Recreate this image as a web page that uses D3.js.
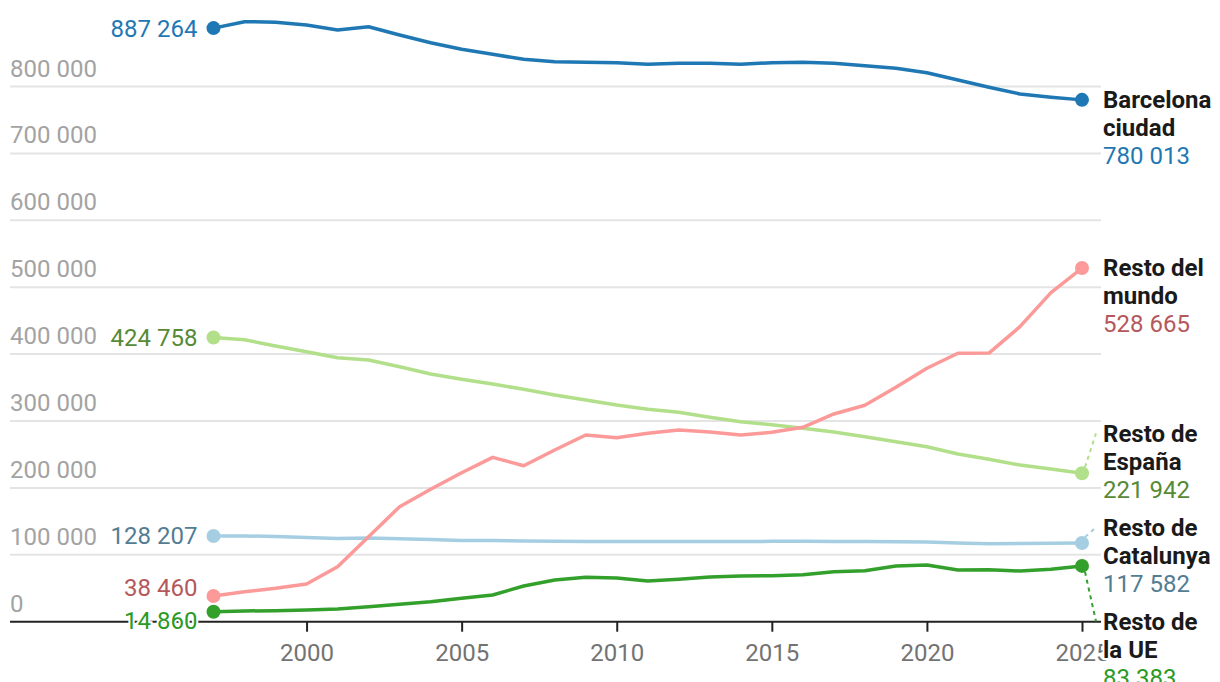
<!DOCTYPE html>
<html>
<head>
<meta charset="utf-8">
<script src="https://cdn.jsdelivr.net/npm/d3@7"></script>
<style>
  body { margin: 0; background: #fff; }
  text { font-family: Roboto, "Noto Sans", sans-serif; }
</style>
</head>
<body>
<div id="chart"></div>
<script>
// Data
var years = [1997, 1998, 1999, 2000, 2001, 2002, 2003, 2004, 2005, 2006, 2007, 2008, 2009, 2010,
  2011, 2012, 2013, 2014, 2015, 2016, 2017, 2018, 2019, 2020, 2021, 2022, 2023, 2024, 2025];

var barcelona = [887264, 896900, 896200, 891900, 884400, 889400, 877000, 865500, 855600, 848100,
  840600, 837100, 836200, 835600, 833200, 834700, 834700, 833200, 835600, 836200, 834700, 831100,
  827200, 820600, 809700, 798800, 788800, 783900, 780013];

var restoMundo = [38460, 44800, 49900, 56400, 82200, 127100, 171900, 197900, 222700, 245700,
  233200, 256700, 279100, 275000, 281600, 286500, 283600, 279100, 283100, 290600, 310500, 323500,
  350400, 378800, 401200, 401500, 441000, 491800, 528665];

var restoEspana = [424758, 421400, 412100, 403600, 394600, 391200, 381200, 370300, 362300, 355300,
  347400, 338900, 331400, 323900, 317500, 313000, 305500, 299000, 294500, 289100, 283600, 276500,
  269100, 261600, 250700, 242700, 234200, 228200, 221942];

var restoCatalunya = [128207, 128100, 127500, 126000, 124200, 125200, 124000, 122700, 121500, 121200,
  120600, 120300, 120000, 119900, 119800, 119900, 119900, 119900, 120100, 120200, 120000, 119700,
  119500, 119300, 117600, 116700, 117000, 117300, 117582];

var restoUE = [14860, 16000, 16500, 17500, 19000, 22400, 26000, 29900, 35000, 39900,
  53400, 62300, 66300, 65300, 60800, 63300, 66800, 68300, 68800, 70300, 74800, 76300,
  83300, 84800, 77300, 77700, 75800, 78500, 83383];

var seriesNames = [["Resto de", "Catalunya"], ["Resto de", "España"], ["Resto de", "la UE"],
  ["Resto del", "mundo"], ["Barcelona", "ciudad"]];
var seriesValues = [restoCatalunya, restoEspana, restoUE, restoMundo, barcelona];
var lineColors = ["#a6cee3", "#b2df8a", "#33a02c", "#fb9a99", "#1f78b4"];
var textColors = ["#527d93", "#568a35", "#2b9a23", "#b5585b", "#1f78b4"];

var yTicks = [0, 100000, 200000, 300000, 400000, 500000, 600000, 700000, 800000];
var xTicks = [2000, 2005, 2010, 2015, 2020, 2025];

// Set up the chart
var svgWidth = 1220;
var svgHeight = 682;
var gridLeft = 10;
var gridRight = 1101;
var fontSize = "24px";

var svg = d3.select("#chart")
  .append("svg")
  .attr("width", svgWidth)
  .attr("height", svgHeight);

var fmt = d3.formatLocale({decimal: ",", thousands: " ", grouping: [3], currency: ["", ""]}).format(",d");

var xScale = d3.scaleLinear().domain([1997, 2025]).range([213.5, 1082]);
var yScale = d3.scaleLinear().domain([0, 800000]).range([621.7, 86.5]);

// Gridlines + y labels
svg.append("g").selectAll("line")
  .data(yTicks.filter(d => d > 0))
  .enter().append("line")
  .attr("x1", gridLeft).attr("x2", gridRight)
  .attr("y1", d => yScale(d)).attr("y2", d => yScale(d))
  .attr("stroke", "#e4e4e4").attr("stroke-width", 2);

svg.append("g").selectAll("text")
  .data(yTicks)
  .enter().append("text")
  .attr("x", gridLeft)
  .attr("y", d => yScale(d) - 10)
  .attr("fill", "#a3a3a3")
  .attr("font-size", fontSize)
  .text(d => fmt(d));

// x axis
var xAxis = d3.axisBottom(xScale).tickValues(xTicks).tickFormat(d3.format("d")).tickSize(10).tickSizeOuter(0);
var axisG = svg.append("g")
  .attr("transform", `translate(0, ${yScale(0)})`)
  .call(xAxis);
axisG.select(".domain").remove();
axisG.selectAll(".tick line").attr("stroke", "#222").attr("stroke-width", 2);
axisG.selectAll(".tick text")
  .attr("fill", "#737373")
  .attr("font-size", fontSize)
  .attr("font-family", "Roboto")
  .attr("y", 22);

svg.append("line")
  .attr("x1", gridLeft).attr("x2", gridRight)
  .attr("y1", yScale(0)).attr("y2", yScale(0))
  .attr("stroke", "#222").attr("stroke-width", 2);

var line = d3.line()
  .x((d, i) => xScale(years[i]))
  .y(d => yScale(d));

var series = seriesValues.map((vals, i) => ({
  name: seriesNames[i], values: vals, color: lineColors[i], tcolor: textColors[i]
}));

// simple label de-overlap: merge clusters and centre them on their mean
function spread(items, gap) {
  var sorted = items.slice().sort((a, b) => a.target - b.target);
  var clusters = sorted.map(d => ({items: [d], mean: d.target}));
  var moved = true;
  while (moved) {
    moved = false;
    for (var i = 0; i < clusters.length - 1; i++) {
      var a = clusters[i], b = clusters[i + 1];
      var aEnd = a.mean + (a.items.length - 1) * gap / 2;
      var bStart = b.mean - (b.items.length - 1) * gap / 2;
      if (bStart - aEnd < gap) {
        var items2 = a.items.concat(b.items);
        clusters.splice(i, 2, {items: items2, mean: d3.mean(items2, d => d.target)});
        moved = true;
        break;
      }
    }
  }
  clusters.forEach(c => {
    var start = c.mean - (c.items.length - 1) * gap / 2;
    c.items.forEach((d, k) => { d.y = start + k * gap; });
  });
}

var leftLabels = series.map(s => ({s: s, target: yScale(s.values[0])}));
spread(leftLabels, 33);
var rightLabels = series.map(s => ({s: s, target: yScale(s.values[s.values.length - 1])}));
spread(rightLabels, 94);

// connectors for moved right labels
var lastX = xScale(years[years.length - 1]);
svg.append("g").selectAll("line")
  .data(rightLabels.filter(d => Math.abs(d.y - d.target) > 3))
  .enter().append("line")
  .attr("x1", lastX + 3)
  .attr("y1", d => d.target + (d.y > d.target ? 6 : -6))
  .attr("x2", 1096)
  .attr("y2", d => d.y)
  .attr("stroke", d => d.s.color)
  .attr("stroke-width", 2)
  .attr("stroke-dasharray", "4,4");

// lines
svg.append("g").selectAll("path")
  .data(series)
  .enter().append("path")
  .attr("d", d => line(d.values))
  .attr("fill", "none")
  .attr("stroke", d => d.color)
  .attr("stroke-width", 3.5)
  .attr("stroke-linejoin", "round");

// end dots
series.forEach(s => {
  [0, s.values.length - 1].forEach(i => {
    svg.append("circle")
      .attr("cx", xScale(years[i]))
      .attr("cy", yScale(s.values[i]))
      .attr("r", 7)
      .attr("fill", s.color);
  });
});

// left value labels
svg.append("g").selectAll("text")
  .data(leftLabels)
  .enter().append("text")
  .attr("x", xScale(years[0]) - 16)
  .attr("y", d => d.y)
  .attr("dy", "0.35em")
  .attr("text-anchor", "end")
  .attr("font-size", fontSize)
  .attr("fill", d => d.s.tcolor)
  .attr("stroke", "#fff")
  .attr("stroke-width", 4)
  .attr("paint-order", "stroke")
  .text(d => fmt(d.s.values[0]));

// right labels
var rg = svg.append("g").selectAll("text")
  .data(rightLabels)
  .enter().append("text")
  .attr("x", 1103)
  .attr("y", d => d.y)
  .attr("font-size", fontSize)
  .attr("stroke", "#fff")
  .attr("stroke-width", 4)
  .attr("paint-order", "stroke");

rg.each(function(d) {
  var t = d3.select(this);
  d.s.name.forEach((n, k) => {
    t.append("tspan")
      .attr("x", 1103)
      .attr("dy", k === 0 ? "0.35em" : 28)
      .attr("font-weight", "bold")
      .attr("fill", "#1a1a1a")
      .text(n);
  });
  t.append("tspan")
    .attr("x", 1103)
    .attr("dy", 28)
    .attr("fill", d.s.tcolor)
    .text(fmt(d.s.values[d.s.values.length - 1]));
});
</script>
</body>
</html>
